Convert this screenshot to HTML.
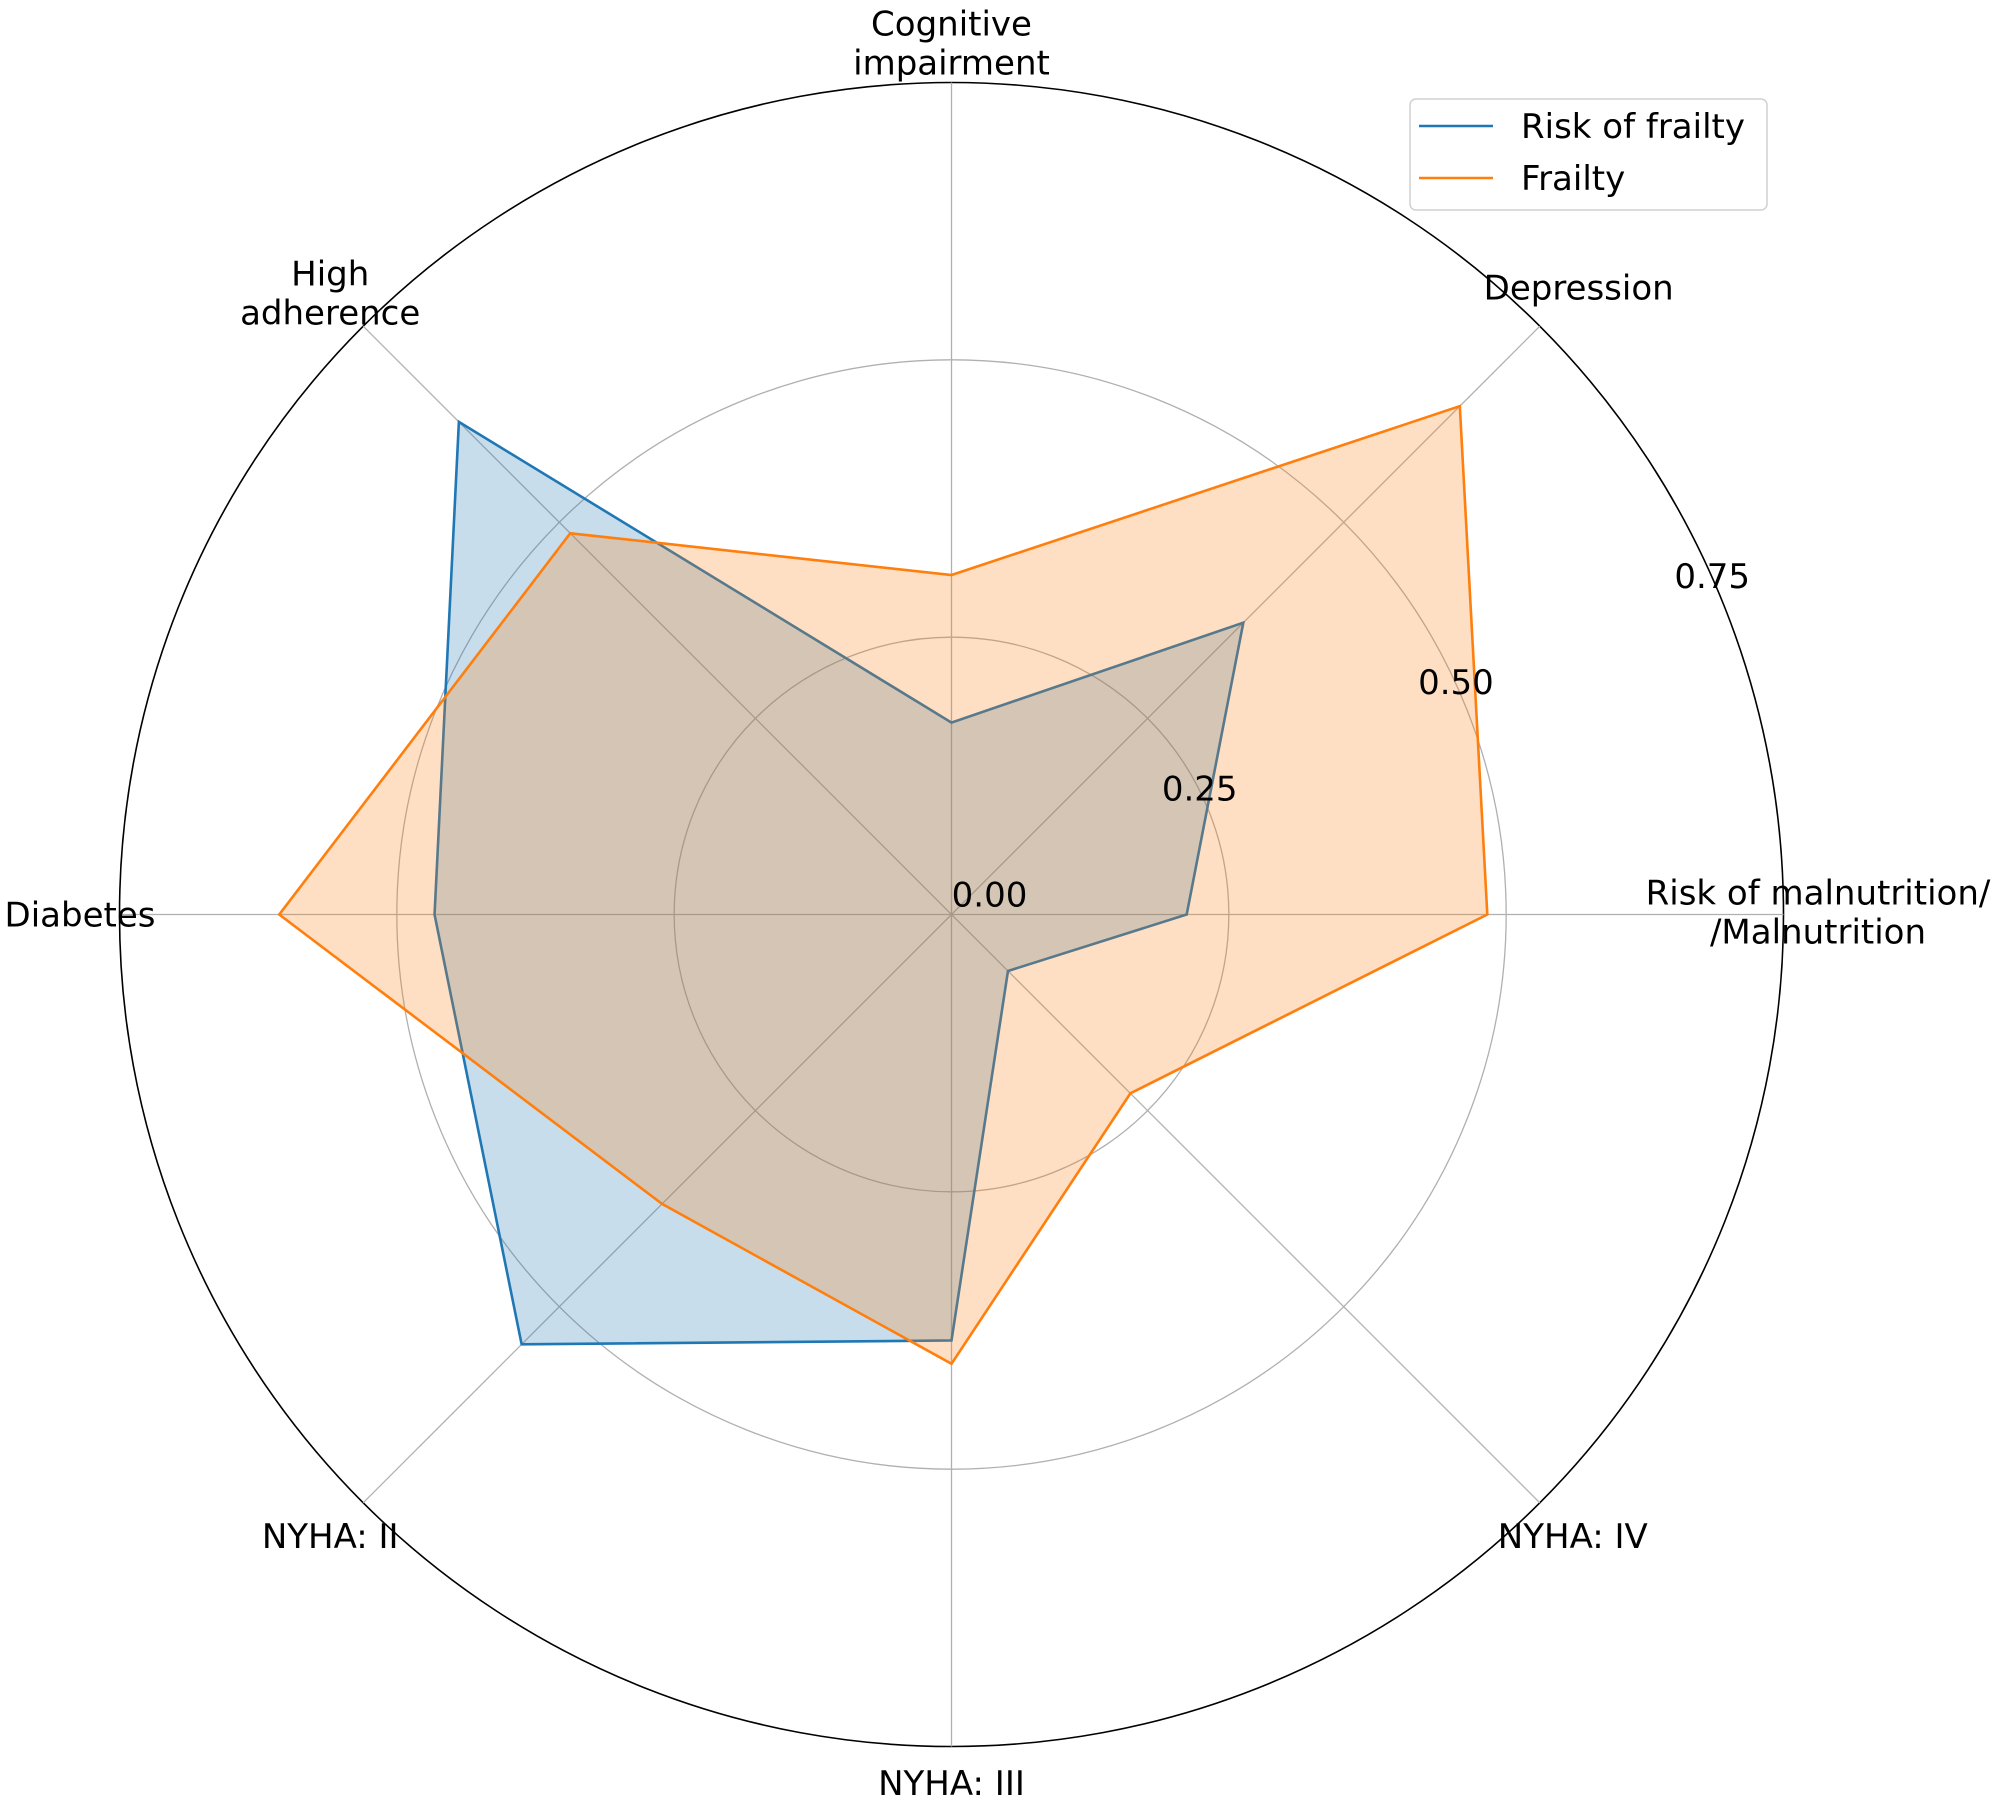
<!DOCTYPE html>
<html><head><meta charset="utf-8"><style>
body{margin:0;background:#fff}
svg text{font-family:"DejaVu Sans","Liberation Sans",sans-serif;font-size:34px;fill:#000}
</style></head><body>
<svg id="chart" width="2008" height="1806" viewBox="0 0 2008 1806" xmlns="http://www.w3.org/2000/svg">
<g id="grid"></g>
<g id="series"></g>
<g id="labels"></g>
<g>
<rect x="1410" y="99" width="357" height="111" rx="6" fill="#fff" fill-opacity="0.8" stroke="#d0d0d0" stroke-width="1.5"/>
<line x1="1419" y1="126" x2="1493" y2="126" stroke="#1f77b4" stroke-width="2.6"/>
<text x="1521" y="138">Risk of frailty</text>
<line x1="1419" y1="178" x2="1493" y2="178" stroke="#ff7f0e" stroke-width="2.6"/>
<text x="1521" y="190">Frailty</text>
</g>
</svg>
<script>
const categories = ["Risk of malnutrition/\n/Malnutrition","Depression","Cognitive\nimpairment","High\nadherence","Diabetes","NYHA: II","NYHA: III","NYHA: IV"];
const riskValues = [0.212,0.372,0.173,0.628,0.466,0.548,0.384,0.072];
const frailtyValues = [0.483,0.648,0.306,0.486,0.606,0.369,0.405,0.228];
const tickValues = [0.25,0.5,0.75];
const tickLabels = ["0.00","0.25","0.50","0.75"];
const rMax = 0.75;

const NS="http://www.w3.org/2000/svg";
const cx=951.5, cy=914.5, R=832;
function rScale(v){return v/rMax*R;}
function ang(i){return i*2*Math.PI/categories.length;}
function pt(i,v){const a=ang(i),r=rScale(v);return [cx+r*Math.cos(a), cy-r*Math.sin(a)];}
function mk(tag,attrs,parent){const e=document.createElementNS(NS,tag);for(const k in attrs)e.setAttribute(k,attrs[k]);parent.appendChild(e);return e;}
const grid=document.getElementById('grid'), ser=document.getElementById('series'), lab=document.getElementById('labels');

tickValues.forEach((t,i)=>{
  const c=mk('circle',{cx:cx,cy:cy,r:rScale(t),fill:'none',stroke:i===tickValues.length-1?'#000':'#b0b0b0','stroke-width':i===tickValues.length-1?1.6:1.3},grid);
  
  
});
categories.forEach((c,i)=>{
  const [x,y]=pt(i,rMax);
  const l=mk('line',{x1:cx,y1:cy,x2:x,y2:y,stroke:'#b0b0b0','stroke-width':1.3},grid);
  
  
});
function drawSeries(vals,color,name){
  const pts=vals.map((v,i)=>pt(i,v).join(',')).join(' ');
  const p=mk('polygon',{points:pts,fill:color,'fill-opacity':0.25,stroke:color,'stroke-width':2.6,'stroke-linejoin':'miter'},ser);
  
  
}
drawSeries(riskValues,'#1f77b4','series-risk-of-frailty');
drawSeries(frailtyValues,'#ff7f0e','series-frailty');

// category labels
const labelR=[1.04,1.03,1.06,1.02,1.04,1.02,1.045,1.02];
categories.forEach((c,i)=>{
  const a=ang(i);
  const lines=c.split('\n');
  const rr=R*labelR[i]+ (Math.abs(Math.cos(a))>0.9?90:30);
  let x=cx+rr*Math.cos(a), y=cy-rr*Math.sin(a);
  if(i===0){x=1818;y=912;}
  if(i===4){x=80;}
  if(i===2){y=43;}
  if(i===6){y=1783;}
  const t=mk('text',{x:x,'text-anchor':'middle'},lab);
  
  
  const lh=39, y0=y-(lines.length-1)*lh/2+12;
  lines.forEach((s,k)=>{const ts=mk('tspan',{x:x,y:y0+k*lh},t);ts.textContent=s;});
});
// tick labels at 22.5 degrees
const ta=Math.PI/8;
tickLabels.forEach((s,i)=>{
  const v=i*0.25, r=rScale(v);
  const x=cx+r*Math.cos(ta)+(i===0?38:-8), y=cy-r*Math.sin(ta)-8;
  const t=mk('text',{x:x,y:y,'text-anchor':'middle'},lab);
  t.textContent=s;
  
  
});
</script>
</body></html>
